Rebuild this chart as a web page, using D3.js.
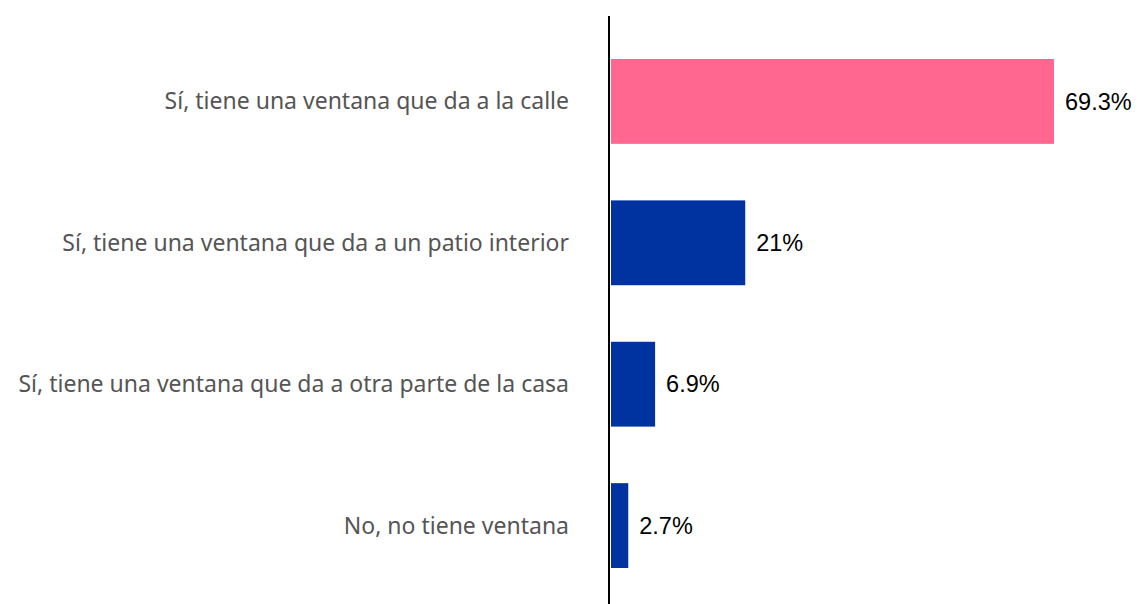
<!DOCTYPE html>
<html>
<head>
<meta charset="utf-8">
<script src="https://cdn.jsdelivr.net/npm/d3@7"></script>
<style>
  body { margin: 0; background: #fff; }
</style>
</head>
<body>
<figure id="bar" style="margin:0"></figure>
<script>
const categories = [
  "Sí, tiene una ventana que da a la calle",
  "Sí, tiene una ventana que da a un patio interior",
  "Sí, tiene una ventana que da a otra parte de la casa",
  "No, no tiene ventana"
];
const values = [69.3, 21, 6.9, 2.7];
const valueLabels = ["69.3%", "21%", "6.9%", "2.7%"];
const barColors = ["#ff6690", "#0033a0", "#0033a0", "#0033a0"];

const width = 1139;
const height = 604;

const svg = d3.select("figure#bar")
  .append("svg")
  .attr("width", width)
  .attr("height", height);

const x = d3.scaleLinear()
  .domain([0, 69.3])
  .range([611, 1054]);

const y = d3.scaleBand()
  .domain(categories)
  .range([59, 568])
  .paddingInner(0.4)
  .paddingOuter(0);

// bars
svg.selectAll("rect.bar")
  .data(values)
  .enter()
  .append("rect")
  .attr("class", "bar")
  .attr("x", x(0))
  .attr("y", (d, i) => y(categories[i]))
  .attr("width", d => x(d) - x(0))
  .attr("height", y.bandwidth())
  .attr("fill", (d, i) => barColors[i]);

// value labels
svg.selectAll("text.val")
  .data(values)
  .enter()
  .append("text")
  .attr("class", "val")
  .attr("x", d => x(d) + 11)
  .attr("y", (d, i) => y(categories[i]) + y.bandwidth() / 2)
  .attr("dy", "0.35em")
  .style("font-family", "'Liberation Sans', Arial, sans-serif")
  .style("font-size", "23.5px")
  .attr("fill", "#000")
  .text((d, i) => valueLabels[i]);

// category labels
svg.selectAll("text.cat")
  .data(categories)
  .enter()
  .append("text")
  .attr("class", "cat")
  .attr("x", 569)
  .attr("y", d => y(d) + y.bandwidth() / 2)
  .attr("dy", "0.35em")
  .attr("text-anchor", "end")
  .style("font-family", "'Noto Sans', 'Open Sans', sans-serif")
  .style("font-size", "23px")
  .attr("fill", "#555")
  .text(d => d);

// baseline axis
svg.append("line")
  .attr("x1", 609)
  .attr("x2", 609)
  .attr("y1", 16)
  .attr("y2", height)
  .attr("stroke", "#000")
  .attr("stroke-width", 2);
</script>
</body>
</html>
